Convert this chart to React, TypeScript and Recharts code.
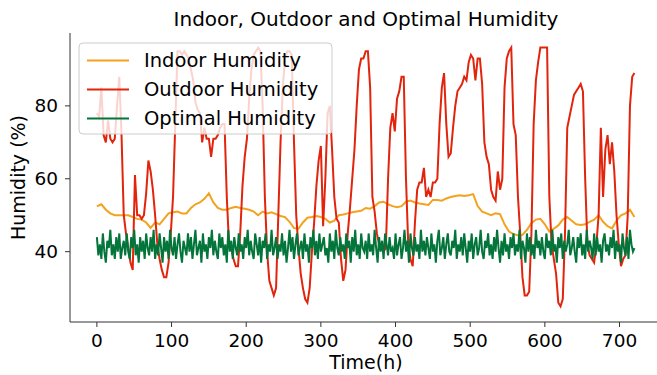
import { Line, LineChart, XAxis, YAxis } from "recharts";

const FONT = "'DejaVu Sans', Verdana, sans-serif";

// hourly readings, sampled every few hours
const OUTDOOR_STEP = 3;
const INDOOR_STEP = 6;
const OPTIMAL_STEP = 2;

const outdoorHumidity = [
    78, 77, 85, 72, 70, 76, 71, 70, 71, 80,
    88, 72, 50, 45, 41, 37, 35, 61, 50, 50,
    49, 50, 56, 65, 62, 57, 50, 42, 38, 35,
    33, 33, 37, 45, 55, 75, 95, 95, 94, 95,
    94, 93, 90, 87, 81, 79, 78, 70, 74, 71,
    71, 66, 71, 71, 72, 74, 75, 75, 55, 42,
    41, 38, 36, 36, 45, 58, 66, 71, 82, 90,
    94, 95, 96, 95, 80, 55, 40, 32, 30, 28,
    30, 50, 70, 85, 93, 95, 95, 94, 70, 50,
    41, 34, 30, 27, 26, 30, 40, 48, 58, 65,
    69, 47, 60, 78, 80, 68, 55, 49, 48, 38,
    32, 35, 45, 52, 60, 68, 80, 90, 93, 93,
    95, 95, 85, 55, 51, 45, 42, 41, 40, 41,
    60, 74, 78, 73, 82, 84, 88, 88, 60, 42,
    38, 36, 48, 57, 59, 59, 63, 55, 57, 55,
    59, 59, 60, 75, 85, 89, 75, 66, 67, 74,
    80, 84, 85, 86, 88, 87, 92, 94, 93, 87,
    93, 93, 86, 70, 66, 64, 57, 55, 54, 62,
    57, 60, 85, 93, 95, 96, 75, 72, 55, 45,
    33, 28, 28, 29, 45, 75, 87, 92, 96, 96,
    96, 96, 55, 42, 38, 34, 26, 25, 27, 45,
    74, 77, 80, 83, 84, 85, 86, 84, 60, 42,
    39, 38, 37, 42, 50, 74, 55, 68, 72, 64,
    70, 62, 50, 42, 36, 38, 39, 50, 80, 88,
    89,
];

const indoorHumidity = [
    52.4, 53, 51.5, 50.5, 50, 50, 50, 50, 49.5, 49,
    48.8, 48, 46.5, 48, 47.5, 49, 50.5, 50.8, 51, 50.5,
    50.5, 52, 53, 53.5, 54.5, 56, 53.5, 52, 51.5, 51.5,
    52, 52.3, 52, 51.8, 51.5, 51, 50, 51, 50.5, 50.8,
    50.3, 49.8, 49.5, 48.2, 46.5, 46.3, 48, 49.3, 49.5, 49.8,
    49.5, 49, 48, 48.5, 50, 50.2, 50.5, 50.8, 51, 51.2,
    52, 51.8, 52.5, 53.5, 53.7, 53, 52.5, 52.2, 52.5, 53.7,
    54, 53.5, 53.2, 53, 52.8, 54.2, 54.2, 54, 54.6, 55,
    55.3, 55.5, 55.3, 55.5, 55.8, 52.5, 51, 50.5, 50, 50.5,
    50.3, 47.5, 45.5, 44.8, 44.5, 44.6, 46, 47.8, 48.8, 49,
    47.5, 45.5, 46.3, 47.2, 48.8, 49.5, 48.5, 47.5, 47.3, 47.5,
    48.2, 48.8, 50, 48.2, 47, 46.4, 48.5, 50, 50.5, 51.5,
    49.5,
];

const optimalHumidity = [
    44, 39, 42, 38, 45, 40, 37, 43, 41, 46, 39, 42, 38, 44, 40, 45, 38, 41, 43, 39,
    45, 40, 38, 44, 41, 46, 39, 42, 37, 44, 40, 43, 38, 45, 41, 39, 44, 40, 46, 38,
    42, 39, 45, 41, 37, 44, 40, 43, 38, 46, 41, 39, 44, 38, 42, 45, 40, 37, 43, 41,
    39, 45, 40, 44, 38, 42, 46, 39, 41, 43, 37, 45, 40, 42, 38, 44, 41, 46, 39, 43,
    40, 38, 45, 41, 44, 39, 42, 37, 46, 40, 43, 38, 44, 41, 39, 45, 40, 42, 38, 44,
    41, 46, 39, 43, 40, 38, 45, 42, 39, 44, 37, 43, 41, 45, 38, 42, 40, 46, 39, 41,
    44, 38, 42, 40, 45, 39, 43, 37, 41, 46, 40, 44, 38, 42, 45, 39, 41, 43, 38, 45,
    40, 42, 37, 44, 41, 46, 39, 43, 38, 45, 40, 42, 44, 39, 41, 37, 45, 40, 43, 38,
    46, 41, 39, 44, 40, 42, 38, 45, 41, 43, 37, 44, 40, 46, 39, 42, 38, 45, 41, 40,
    43, 38, 45, 40, 42, 39, 46, 41, 37, 44, 40, 43, 38, 45, 42, 39, 44, 40, 41, 38,
    45, 39, 42, 44, 38, 41, 46, 40, 43, 37, 45, 41, 39, 44, 40, 42, 38, 46, 40, 43,
    39, 44, 41, 38, 45, 40, 42, 37, 43, 46, 39, 41, 44, 38, 42, 45, 40, 39, 43, 41,
    46, 38, 42, 40, 44, 39, 45, 41, 37, 43, 40, 45, 38, 42, 44, 39, 41, 46, 40, 38,
    43, 41, 45, 39, 42, 38, 44, 40, 46, 41, 37, 43, 39, 45, 40, 42, 38, 44, 41, 45,
    39, 42, 40, 46, 38, 43, 41, 37, 45, 40, 44, 39, 42, 38, 46, 41, 43, 39, 44, 40,
    38, 45, 41, 43, 39, 46, 40, 42, 37, 44, 41, 45, 38, 43, 40, 42, 46, 39, 41, 44,
    40, 37, 44, 41, 45, 39, 42, 38, 46, 40, 43, 41, 38, 45, 39, 44, 40, 42, 37, 43,
    45, 40, 42, 39, 44, 41, 46, 38, 43, 40, 42, 37, 45, 41, 39, 44, 38, 46, 42, 40,
    41,
];

const xTicks = [0, 100, 200, 300, 400, 500, 600, 700];
const yTicks = [40, 60, 80];

const seriesNames = ["Indoor Humidity", "Outdoor Humidity", "Optimal Humidity"];
const seriesColors = ["#f3a21f", "#e2240c", "#03753a"];

const toPoints = (values: number[], step: number) => values.map((v, i) => ({ h: i * step, v }));

const LegendBox = () => (
    <svg width={255} height={93} style={{ position: "absolute", left: 78, top: 42 }}>
        <rect x={1} y={1} width={253} height={91} rx={4} fill="rgba(255,255,255,0.8)" stroke="#cccccc" />
        {seriesNames.map((name, i) => (
            <g key={name}>
                <line x1={9} x2={51} y1={18.6 + i * 29} y2={18.6 + i * 29} stroke={seriesColors[i]} strokeWidth={2} />
                <text x={66} y={18.6 + i * 29} dy="0.35em" fontSize={19.5} fontFamily={FONT} fill="#000">
                    {name}
                </text>
            </g>
        ))}
    </svg>
);

export default function App() {
    const tickStyle = { fill: "#000", fontSize: 18.5, fontFamily: FONT };
    return (
        <div style={{ position: "absolute", left: 0, top: 0, width: 657, height: 375, background: "#fff" }}>
            <LineChart width={657} height={375} margin={{ top: 33, right: 0, bottom: 0, left: 0 }}>
                <XAxis
                    dataKey="h"
                    type="number"
                    domain={[-36, 750.2]}
                    ticks={xTicks}
                    allowDataOverflow
                    height={53}
                    tick={tickStyle}
                    tickSize={5}
                    tickMargin={7}
                    axisLine={{ stroke: "#333" }}
                    tickLine={{ stroke: "#333" }}
                />
                <YAxis
                    type="number"
                    domain={[20.7, 100]}
                    ticks={yTicks}
                    allowDataOverflow
                    width={70}
                    tick={tickStyle}
                    tickSize={5}
                    tickMargin={7}
                    axisLine={{ stroke: "#333" }}
                    tickLine={{ stroke: "#333" }}
                />
                <Line
                    data={toPoints(indoorHumidity, INDOOR_STEP)}
                    dataKey="v"
                    stroke={seriesColors[0]}
                    strokeWidth={2}
                    dot={false}
                    activeDot={false}
                    isAnimationActive={false}
                />
                <Line
                    data={toPoints(outdoorHumidity, OUTDOOR_STEP)}
                    dataKey="v"
                    stroke={seriesColors[1]}
                    strokeWidth={2}
                    dot={false}
                    activeDot={false}
                    isAnimationActive={false}
                />
                <Line
                    data={toPoints(optimalHumidity, OPTIMAL_STEP)}
                    dataKey="v"
                    stroke={seriesColors[2]}
                    strokeWidth={2}
                    dot={false}
                    activeDot={false}
                    isAnimationActive={false}
                />
            </LineChart>
            <svg width={657} height={375} style={{ position: "absolute", left: 0, top: 0, pointerEvents: "none" }}>
                <text x={366} y={26} textAnchor="middle" fontSize={20} fontFamily={FONT} fill="#000">
                    Indoor, Outdoor and Optimal Humidity
                </text>
                <text x={366} y={369} textAnchor="middle" fontSize={19} fontFamily={FONT} fill="#000">
                    Time(h)
                </text>
                <text
                    x={0}
                    y={0}
                    transform="translate(25 177.5) rotate(-90)"
                    textAnchor="middle"
                    fontSize={19}
                    fontFamily={FONT}
                    fill="#000"
                >
                    Humidity (%)
                </text>
            </svg>
            <LegendBox />
        </div>
    );
}
